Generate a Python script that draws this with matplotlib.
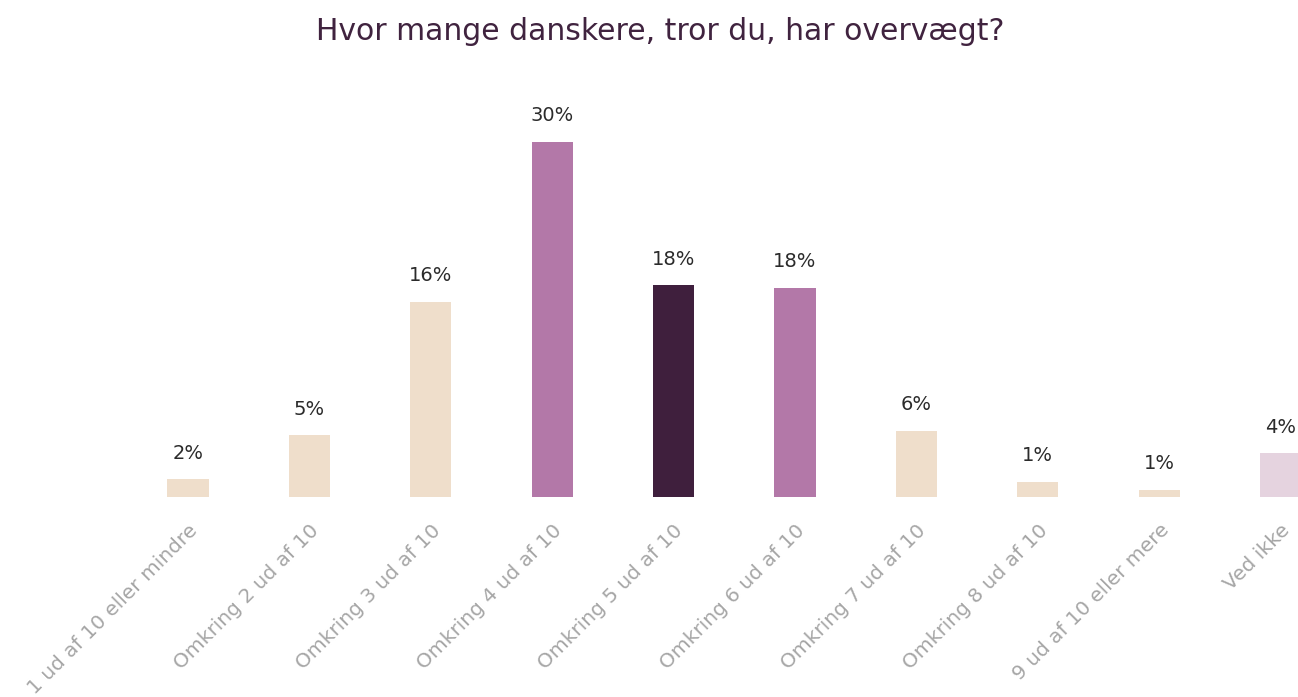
import matplotlib.pyplot as plt

# Data
categories = ['1 ud af 10 eller mindre', 'Omkring 2 ud af 10', 'Omkring 3 ud af 10',
              'Omkring 4 ud af 10', 'Omkring 5 ud af 10', 'Omkring 6 ud af 10',
              'Omkring 7 ud af 10', 'Omkring 8 ud af 10', '9 ud af 10 eller mere',
              'Ved ikke']
values = [1.5, 5.2, 16.5, 30.0, 17.9, 17.7, 5.6, 1.3, 0.6, 3.7]
value_labels = ['2%', '5%', '16%', '30%', '18%', '18%', '6%', '1%', '1%', '4%']

beige = '#efdecb'
purple = '#b378a8'
dark = '#3f1f3d'
pink = '#e5d3df'
colors = [beige, beige, beige, purple, dark, purple, beige, beige, beige, pink]

plt.rcParams['font.family'] = ['DejaVu Sans']

fig = plt.figure(figsize=(12.98, 6.97), dpi=100)
ax = fig.add_axes([0, 0.287, 1, 0.594])

x = list(range(len(categories)))
bars = ax.bar(x, values, width=0.34, color=colors)

# Value labels above bars
for xi, v, lab in zip(x, values, value_labels):
    ax.annotate(lab, (xi, v), xytext=(0, 12), textcoords='offset points',
                ha='center', va='bottom', fontsize=14, color='#2b2b2b')

ax.set_xlim(-1.549, 9.143)
ax.set_ylim(0, 35)
ax.set_xticks(x)
ax.set_xticklabels(categories, rotation=45, ha='right', rotation_mode='anchor',
                   fontsize=14.5, color='#a6a6a6')
ax.tick_params(axis='x', length=0, pad=17)
ax.set_yticks([])
for s in ax.spines.values():
    s.set_visible(False)

fig.text(660 / 1298, 1 - 31 / 697, 'Hvor mange danskere, tror du, har overvægt?',
         ha='center', va='center', fontsize=21.5, color='#40233f')

plt.savefig('out.png', dpi=100)
